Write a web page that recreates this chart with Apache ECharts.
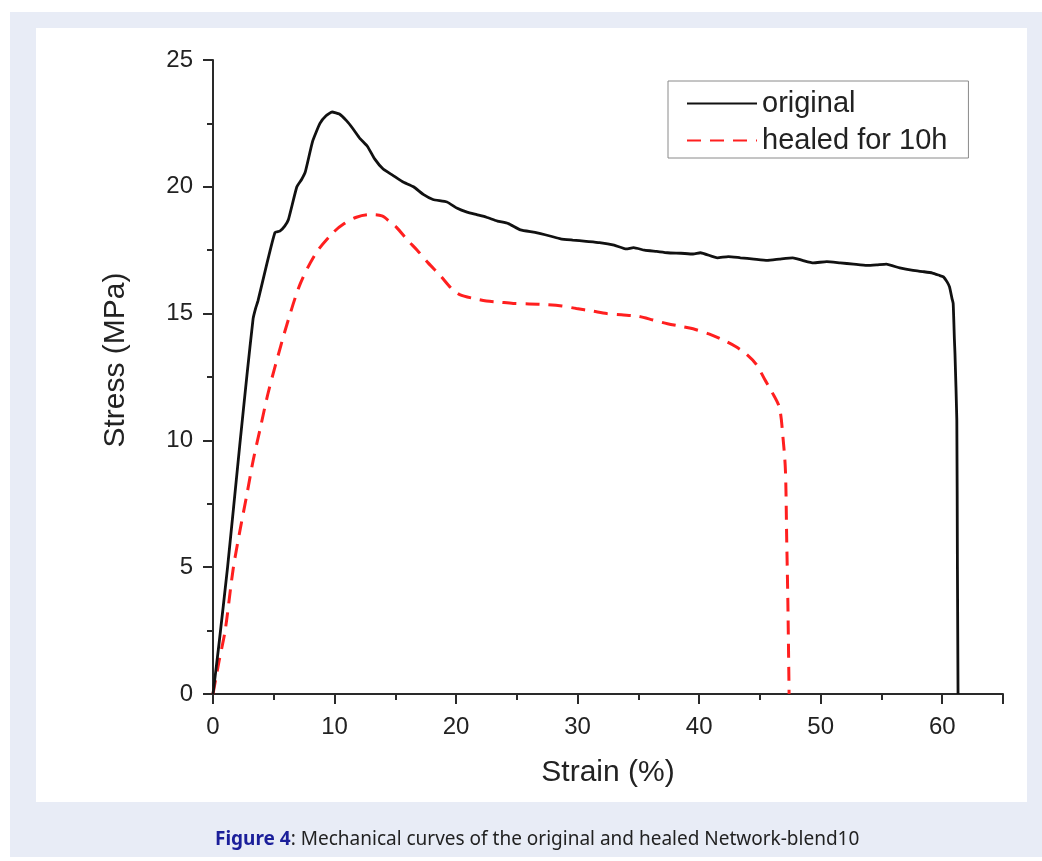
<!DOCTYPE html>
<html>
<head>
<meta charset="utf-8">
<title>Mechanical curves</title>
<script src="https://cdn.jsdelivr.net/npm/echarts@6/dist/echarts.min.js"></script>
<style>
  html, body { margin: 0; padding: 0; background: #fff; }
  #chart-container { width: 1042px; height: 861px; }
</style>
</head>
<body>
<div id="chart-container"></div>
<script>
// strain (%), stress (MPa)
const originalCurve = [
  [0, 0], [0.5, 2.0], [1.2, 5.0], [2.2, 9.8], [2.8, 12.6], [3.3, 14.8], [3.5, 15.2],
  [3.7, 15.5], [4.4, 16.9], [5.1, 18.2], [5.5, 18.25], [5.9, 18.45], [6.2, 18.7],
  [6.9, 20.0], [7.3, 20.3], [7.6, 20.6], [8.2, 21.8], [8.8, 22.5], [9.3, 22.8],
  [9.8, 22.95], [10.4, 22.87], [11.0, 22.6], [11.5, 22.3], [12.1, 21.9], [12.7, 21.6],
  [13.3, 21.1], [14.0, 20.7], [14.8, 20.45], [15.6, 20.2], [16.5, 20.0], [17.3, 19.7],
  [18.1, 19.5], [19.25, 19.4], [20.1, 19.15], [20.9, 19.0], [21.7, 18.9], [22.5, 18.8],
  [23.4, 18.65], [24.3, 18.55], [25.3, 18.3], [26.5, 18.2], [27.8, 18.05], [28.6, 17.95],
  [29.6, 17.9], [30.7, 17.85], [31.8, 17.8], [33.0, 17.7], [34.0, 17.55], [34.6, 17.6],
  [35.5, 17.5], [36.5, 17.45], [37.4, 17.4], [38.5, 17.38], [39.5, 17.35], [40.1, 17.4],
  [41.5, 17.2], [42.4, 17.25], [43.4, 17.2], [44.5, 17.15], [45.6, 17.1], [46.6, 17.15],
  [47.7, 17.2], [48.5, 17.1], [49.4, 17.0], [50.5, 17.05], [51.6, 17.0], [52.7, 16.95],
  [53.8, 16.9], [54.6, 16.92], [55.4, 16.95], [56.5, 16.8], [57.6, 16.7], [58.5, 16.65],
  [59.2, 16.6], [59.8, 16.5], [60.1, 16.45], [60.4, 16.25], [60.6, 16.05], [60.8, 15.6],
  [60.9, 15.4], [61.0, 14.0], [61.05, 13.4], [61.2, 10.8], [61.25, 5.0], [61.3, 0]
]

const healedCurve = [
  [0, 0], [0.5, 1.3], [1.0, 2.5], [1.65, 4.9], [2.2, 6.4], [2.8, 7.9], [3.3, 9.2],
  [3.9, 10.5], [4.5, 11.8], [5.1, 12.9], [6.1, 14.6], [7.2, 16.2],
  [8.5, 17.4], [9.9, 18.2], [10.8, 18.55], [11.8, 18.8], [12.9, 18.9], [13.9, 18.85],
  [14.6, 18.6], [15.1, 18.4], [16.0, 17.9], [16.8, 17.5], [17.7, 17.0], [18.7, 16.5],
  [19.6, 16.0], [20.3, 15.75], [21.4, 15.6], [22.5, 15.5], [23.6, 15.45], [24.7, 15.4],
  [26.0, 15.38], [27.5, 15.35], [28.7, 15.3], [29.9, 15.2], [31.2, 15.1], [32.4, 15.0],
  [33.6, 14.95], [34.9, 14.9], [36.2, 14.75], [37.4, 14.6], [38.5, 14.5], [39.5, 14.4],
  [40.8, 14.2], [42.0, 13.95], [43.0, 13.7], [43.9, 13.4], [44.7, 13.0], [45.4, 12.4],
  [46.0, 11.9], [46.6, 11.3], [46.9, 10.1], [47.1, 8.8], [47.2, 6.2], [47.3, 3.6], [47.4, 0]
]

const seriesNames = ["original", "healed for 10h"]
const xAxisName = "Strain (%)"
const yAxisName = "Stress (MPa)"
const captionLabel = "Figure 4"
const captionText = ": Mechanical curves of the original and healed Network-blend10"

var dom = document.getElementById("chart-container")
var myChart = echarts.init(dom, null, { renderer: "canvas" })

const axisColor = "#2a2a2a"
const textFont = "Arial"

const commonAxisOptions = {
  type: "value",
  nameLocation: "middle",
  splitLine: { show: false },
  axisLine: { show: true, lineStyle: { color: axisColor, width: 2 } },
  axisTick: { show: true, inside: false, length: 10, lineStyle: { color: axisColor, width: 2 } },
  minorTick: { show: true, splitNumber: 2, length: 6, lineStyle: { color: axisColor, width: 2 } },
  axisLabel: { color: "#222", fontSize: 24, fontFamily: textFont, showMaxLabel: false },
  nameTextStyle: { color: "#222", fontSize: 30, fontFamily: textFont }
}

var option = {
  animation: false,
  backgroundColor: "#fff",
  graphic: [
    // page background and white figure panel
    { type: "rect", z: -10, shape: { x: 10, y: 12, width: 1032, height: 845 }, style: { fill: "#e8ecf6" } },
    { type: "rect", z: -9, shape: { x: 36, y: 28, width: 991, height: 774 }, style: { fill: "#fff" } }
  ],
  title: {
    text: "{b|" + captionLabel + "}" + captionText,
    left: 210,
    top: 825,
    textStyle: {
      fontFamily: "'Noto Sans', sans-serif",
      fontSize: 19,
      fontWeight: "normal",
      color: "#222",
      rich: {
        b: { fontFamily: "'Noto Sans', sans-serif", fontSize: 19, fontWeight: "bold", color: "#1b1f9a" }
      }
    }
  },
  legend: {
    orient: "vertical",
    left: 668,
    top: 81,
    padding: [8, 21, 3, 18],
    itemGap: 8,
    itemWidth: 70,
    itemHeight: 28,
    borderColor: "#8a8a8a",
    borderWidth: 1,
    itemStyle: { opacity: 0 },
    data: seriesNames,
    textStyle: { color: "#222", fontSize: 29, fontFamily: textFont }
  },
  grid: { left: 213, right: 39, top: 60, bottom: 167, containLabel: false },
  xAxis: {
    ...commonAxisOptions,
    min: 0,
    max: 65,
    interval: 10,
    name: xAxisName,
    nameGap: 64,
    axisLabel: { ...commonAxisOptions.axisLabel, margin: 21 }
  },
  yAxis: {
    ...commonAxisOptions,
    min: 0,
    max: 25,
    interval: 5,
    name: yAxisName,
    nameGap: 82,
    nameTextStyle: { ...commonAxisOptions.nameTextStyle, padding: [0, 0, 0, 34] },
    axisLabel: { ...commonAxisOptions.axisLabel, showMaxLabel: true, margin: 20 }
  },
  series: [
    {
      name: seriesNames[0],
      type: "line",
      data: originalCurve,
      showSymbol: false,
      symbol: "none",
      smooth: 0.15,
      lineStyle: { color: "#111", width: 2.8 },
      itemStyle: { color: "#111" },
      z: 3
    },
    {
      name: seriesNames[1],
      type: "line",
      data: healedCurve,
      showSymbol: false,
      symbol: "none",
      smooth: 0.3,
      lineStyle: { color: "#ff1f1f", width: 3, type: [14, 9] },
      itemStyle: { color: "#ff1f1f" },
      z: 2
    }
  ]
}

myChart.setOption(option)
window.addEventListener("resize", myChart.resize)
</script>
</body>
</html>
